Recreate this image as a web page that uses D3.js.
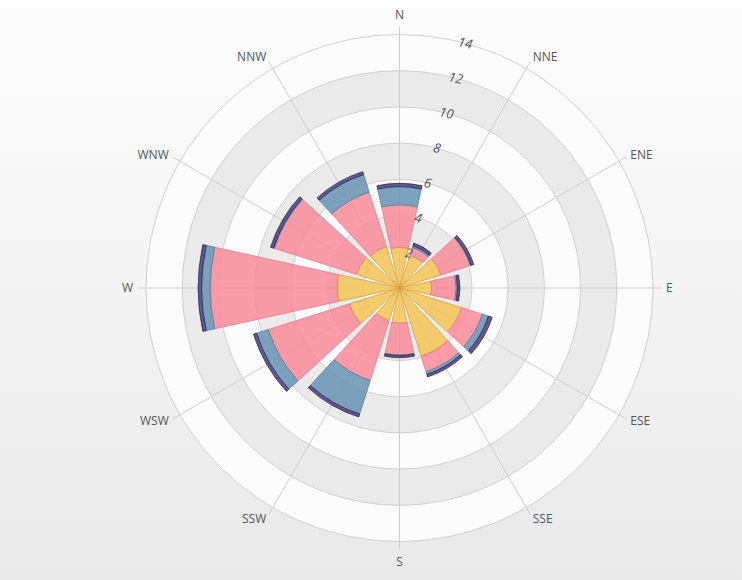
<!DOCTYPE html>
<html>
<head>
<meta charset="utf-8">
<script src="https://cdn.jsdelivr.net/npm/d3@7"></script>
<style>
  body { margin: 0; background: #fff; }
  #rose { width: 742px; height: 580px; }
</style>
</head>
<body>
<div id="rose"></div>
<script>
// wind rose data
var directions = ["N", "NNE", "ENE", "E", "ESE", "SSE", "S", "SSW", "WSW", "W", "WNW", "NNW"];
var yellow = [2.25, 1.9, 2.4, 1.78, 3.6, 3.95, 1.95, 1.9, 2.9, 3.45, 2.5, 2.4];
var pink   = [2.34, 0.45, 1.7, 1.35, 1.2, 0.9, 1.75, 3.45, 4.7, 7.0, 4.75, 3.15];
var blue   = [1.01, 0.1, 0.05, 0.08, 0.35, 0.15, 0.03, 1.95, 0.68, 0.48, 0.05, 1.02];
var purple = [0.18, 0.15, 0.15, 0.13, 0.22, 0.15, 0.12, 0.17, 0.18, 0.19, 0.17, 0.17];
var ticks = [2, 4, 6, 8, 10, 12, 14];

var width = 742, height = 580;
var cx = 399.5, cy = 288;
var outer = 253.5;

var svg = d3.select("#rose").append("svg")
    .attr("width", width)
    .attr("height", height);

// background gradient
var defs = svg.append("defs");
var grad = defs.append("linearGradient")
    .attr("id", "bg")
    .attr("x1", 0).attr("y1", 0).attr("x2", 0).attr("y2", 1);
grad.append("stop").attr("offset", "0%").attr("stop-color", "#fdfdfd");
grad.append("stop").attr("offset", "18%").attr("stop-color", "#fafafa");
grad.append("stop").attr("offset", "100%").attr("stop-color", "#e9e9e9");

svg.append("rect")
    .attr("width", width)
    .attr("height", height)
    .attr("fill", "url(#bg)");

var g = svg.append("g")
    .attr("transform", "translate(" + cx + "," + cy + ")");

var r = d3.scaleLinear().domain([0, 14]).range([0, outer]);
var step = 2 * Math.PI / directions.length;
var angle = d3.scaleOrdinal().domain(directions).range(directions.map(function(d, i) { return i * step; }));

// bands: white disc then gray rings 2-4, 6-8, 10-12
g.append("circle").attr("r", r(14)).attr("fill", "#fcfcfc");
var band = d3.arc();
[[2, 4], [6, 8], [10, 12]].forEach(function(b) {
  g.append("path")
      .attr("d", band({innerRadius: r(b[0]), outerRadius: r(b[1]), startAngle: 0, endAngle: 2 * Math.PI}))
      .attr("fill", "#ebebeb");
});

// ring lines
g.selectAll(".ring")
    .data(ticks)
  .enter().append("circle")
    .attr("class", "ring")
    .attr("r", function(d) { return r(d); })
    .attr("fill", "none")
    .attr("stroke", "#cfcfcf")
    .attr("stroke-width", 1);

// spokes
g.selectAll(".spoke")
    .data(directions)
  .enter().append("line")
    .attr("class", "spoke")
    .attr("x1", 0).attr("y1", 0)
    .attr("x2", function(d) { return Math.sin(angle(d)) * (outer + 8); })
    .attr("y2", function(d) { return -Math.cos(angle(d)) * (outer + 8); })
    .attr("stroke", "#cdcdcd")
    .attr("stroke-width", 1);

// stacked bars
var table = directions.map(function(d, i) {
  return {dir: d, yellow: yellow[i], pink: pink[i], blue: blue[i], purple: purple[i]};
});
var keys = ["yellow", "pink", "blue", "purple"];
var fills = {yellow: "#f4c65a", pink: "#f98e9c", blue: "#6b95b4", purple: "#4f4380"};
var strokes = {yellow: "#d69b3e", pink: "#e57a8a", blue: "#557f9f", purple: "#2c2450"};
var series = d3.stack().keys(keys)(table);
var half = step * 0.415;

var arc = d3.arc()
    .innerRadius(function(d) { return r(d[0]); })
    .outerRadius(function(d) { return r(d[1]); })
    .startAngle(function(d) { return angle(d.data.dir) - half; })
    .endAngle(function(d) { return angle(d.data.dir) + half; });

g.selectAll(".layer")
    .data(series)
  .enter().append("g")
    .attr("class", "layer")
    .attr("fill", function(s) { return fills[s.key]; })
    .attr("stroke", function(s) { return strokes[s.key]; })
    .attr("fill-opacity", 0.88)
  .selectAll("path")
    .data(function(s) { return s; })
  .enter().append("path")
    .attr("d", arc)
    .attr("stroke-width", 0.8);

// direction labels
g.selectAll(".dir")
    .data(directions)
  .enter().append("text")
    .attr("class", "dir")
    .attr("x", function(d) { return Math.sin(angle(d)) * (outer + 13); })
    .attr("y", function(d) { return -Math.cos(angle(d)) * (outer + 13); })
    .attr("dy", function(d) {
      var c = Math.cos(angle(d));
      if (c > 0.95) return "-0.2em";
      if (c < -0.95) return "0.95em";
      return "0.35em";
    })
    .attr("text-anchor", function(d) {
      var s = Math.sin(angle(d));
      if (s > 0.1) return "start";
      if (s < -0.1) return "end";
      return "middle";
    })
    .style("font-family", "'Open Sans', sans-serif")
    .style("font-size", "12px")
    .style("fill", "#555")
    .text(function(d) { return d; });

// radial tick labels
var ta = 15 * Math.PI / 180;
g.selectAll(".tick")
    .data(ticks)
  .enter().append("text")
    .attr("class", "tick")
    .attr("transform", function(d) {
      return "translate(" + (Math.sin(ta) * r(d)) + "," + (-Math.cos(ta) * r(d)) + ") rotate(12)";
    })
    .attr("dy", "0.35em")
    .attr("text-anchor", "middle")
    .style("font-family", "'Open Sans', sans-serif")
    .style("font-style", "italic")
    .style("font-size", "13px")
    .style("fill", "#555")
    .text(function(d) { return d; });
</script>
</body>
</html>
